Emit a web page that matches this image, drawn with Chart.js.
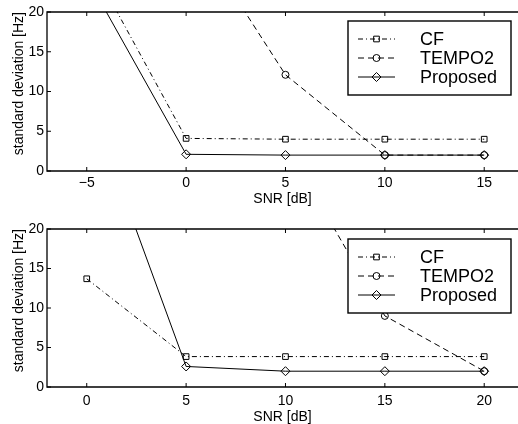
<!DOCTYPE html>
<html>
<head>
<meta charset="utf-8">
<script src="https://cdn.jsdelivr.net/npm/chart.js@4.4.0/dist/chart.umd.min.js"></script>
<style>
html, body { margin: 0; padding: 0; background: #fff; overflow: hidden; }
#top { position: absolute; left: 0; top: 0; width: 518px; height: 206px; }
#bot { position: absolute; left: 0; top: 206px; width: 518px; height: 218px; }
</style>
</head>
<body>
<div id="top"><canvas id="c1"></canvas></div>
<div id="bot"><canvas id="c2"></canvas></div>
<script>
// upper panel
var snrTop = [-5, 0, 5, 10, 15];
var cfTop = [27, 4.1, 4.0, 4.0, 4.0];
var tempoTop = [45, 31.5, 12.1, 2.0, 2.0];
var propTop = [24.4, 2.1, 2.0, 2.0, 2.0];
var xTicksTop = [-5, 0, 5, 10, 15];

// lower panel
var snrBot = [0, 5, 10, 15, 20];
var cfBot = [13.7, 3.85, 3.85, 3.85, 3.85];
var tempoBot = [60, 45, 30.7, 9.0, 2.0];
var propBot = [37, 2.6, 2.0, 2.0, 2.0];
var xTicksBot = [0, 5, 10, 15, 20];

var yTicks = [0, 5, 10, 15, 20];
var names = ['CF', 'TEMPO2', 'Proposed'];

var FONT = '"Liberation Sans", Arial, Helvetica, sans-serif';
var styles = [
    { dash: [5, 3, 1, 3], point: 'rect', r: 4 },
    { dash: [6, 4], point: 'circle', r: 3.5 },
    { dash: [], point: 'rectRot', r: 4.5 }
];

function pts(xs, ys) {
    return xs.map(function (x, i) { return { x: x, y: ys[i] }; });
}

function drawMarker(ctx, kind, r, x, y) {
    ctx.beginPath();
    if (kind === 'rect') {
        var s = r * Math.SQRT1_2;
        ctx.rect(x - s, y - s, 2 * s, 2 * s);
    } else if (kind === 'circle') {
        ctx.arc(x, y, r, 0, Math.PI * 2);
    } else {
        ctx.moveTo(x, y - r); ctx.lineTo(x + r, y); ctx.lineTo(x, y + r); ctx.lineTo(x - r, y); ctx.closePath();
    }
    ctx.stroke();
}

// frame with inward ticks + matlab style legend box
var framePlugin = {
    id: 'frame',
    afterDraw: function (chart) {
        var a = chart.chartArea, ctx = chart.ctx;
        var xs = chart.scales.x, ys = chart.scales.y;
        ctx.save();
        ctx.strokeStyle = '#000';
        ctx.lineWidth = 1.3;
        ctx.setLineDash([]);
        ctx.beginPath();
        ctx.moveTo(a.right + 5, a.top); ctx.lineTo(a.left, a.top);
        ctx.lineTo(a.left, a.bottom); ctx.lineTo(a.right + 5, a.bottom);
        ctx.stroke();
        ctx.lineWidth = 1;
        ctx.beginPath();
        xs.ticks.forEach(function (t) {
            var px = xs.getPixelForValue(t.value);
            ctx.moveTo(px, a.bottom); ctx.lineTo(px, a.bottom - 4);
            ctx.moveTo(px, a.top); ctx.lineTo(px, a.top + 4);
        });
        ys.ticks.forEach(function (t) {
            var py = ys.getPixelForValue(t.value);
            ctx.moveTo(a.left, py); ctx.lineTo(a.left + 4, py);
        });
        ctx.stroke();

        // legend
        var off = chart.options.plugins.frame.legendTop;
        var bx = 348, by = a.top + off, bw = 163, bh = 74;
        ctx.fillStyle = '#fff';
        ctx.fillRect(bx, by, bw, bh);
        ctx.lineWidth = 1.4;
        ctx.strokeRect(bx, by, bw, bh);
        ctx.font = '18px ' + FONT;
        ctx.textBaseline = 'middle';
        ctx.textAlign = 'left';
        chart.data.datasets.forEach(function (ds, i) {
            var y = by + 18 + i * 19;
            ctx.lineWidth = 1;
            ctx.setLineDash(styles[i].dash);
            ctx.beginPath(); ctx.moveTo(358, y); ctx.lineTo(395, y); ctx.stroke();
            ctx.setLineDash([]);
            drawMarker(ctx, styles[i].point, styles[i].r, 376.5, y);
            ctx.fillStyle = '#000';
            ctx.fillText(ds.label, 420, y + 1);
        });
        ctx.restore();
    }
};

function makeChart(id, xs, series, xmin, xmax, xTicks, legendTop, xTickPad, axisH) {
    var datasets = series.map(function (ys, i) {
        return {
            label: names[i],
            data: pts(xs, ys),
            borderColor: '#000',
            borderWidth: 1,
            borderDash: styles[i].dash,
            pointStyle: styles[i].point,
            pointRadius: styles[i].r,
            pointBorderColor: '#000',
            pointBackgroundColor: 'rgba(0,0,0,0)',
            pointBorderWidth: 1,
            fill: false,
            tension: 0
        };
    });
    return new Chart(document.getElementById(id).getContext('2d'), {
        type: 'line',
        data: { datasets: datasets },
        plugins: [framePlugin],
        options: {
            responsive: true,
            maintainAspectRatio: false,
            animation: false,
            layout: { autoPadding: false, padding: { top: legendTop === 9 ? 12 : 23, left: 0, right: 0, bottom: 0 } },
            plugins: {
                legend: { display: false },
                tooltip: { enabled: false },
                frame: { legendTop: legendTop }
            },
            scales: {
                x: {
                    type: 'linear',
                    min: xmin,
                    max: xmax,
                    grid: { display: false, drawTicks: false },
                    border: { display: false },
                    afterBuildTicks: function (s) { s.ticks = xTicks.map(function (v) { return { value: v }; }); },
                    afterFit: function (s) { s.height = axisH; s.paddingLeft = 0; s.paddingRight = 0; },
                    ticks: {
                        color: '#000',
                        padding: xTickPad,
                        maxRotation: 0,
                        font: { family: FONT, size: 14 },
                        callback: function (v) { return String(v).replace('-', '\u2212'); }
                    },
                    title: {
                        display: true,
                        text: 'SNR [dB]',
                        color: '#000',
                        padding: { top: 0, bottom: 0 },
                        font: { family: FONT, size: 14, lineHeight: 1 }
                    }
                },
                y: {
                    type: 'linear',
                    min: 0,
                    max: 20,
                    grid: { display: false, drawTicks: false },
                    border: { display: false },
                    afterBuildTicks: function (s) { s.ticks = yTicks.map(function (v) { return { value: v }; }); },
                    afterFit: function (s) { s.width = 47; s.paddingTop = 0; s.paddingBottom = 0; },
                    ticks: {
                        color: '#000',
                        padding: 3,
                        font: { family: FONT, size: 14 }
                    },
                    title: {
                        display: true,
                        text: 'standard deviation [Hz]',
                        color: '#000',
                        align: 'end',
                        padding: { top: 12, bottom: 0 },
                        font: { family: FONT, size: 14, lineHeight: 1 }
                    }
                }
            }
        }
    });
}

makeChart('c1', snrTop, [cfTop, tempoTop, propTop], -7, 16.7, xTicksTop, 9, 3.5, 35);
makeChart('c2', snrBot, [cfBot, tempoBot, propBot], -2, 21.7, xTicksBot, 10, 6, 37);
</script>
</body>
</html>
